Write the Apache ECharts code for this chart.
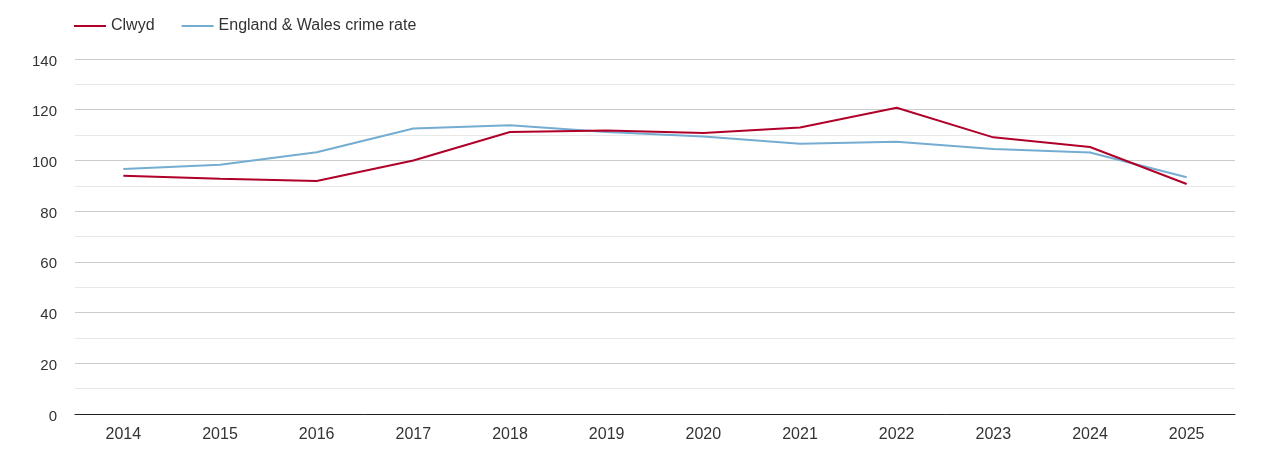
<!DOCTYPE html>
<html>
<head>
<meta charset="utf-8">
<script src="https://cdn.jsdelivr.net/npm/echarts@6/dist/echarts.min.js"></script>
<style>html,body{margin:0;padding:0;background:#fff}#c{width:1270px;height:450px}</style>
</head>
<body>
<div id="c"></div>
<script>
const years = ['2014','2015','2016','2017','2018','2019','2020','2021','2022','2023','2024','2025'];
const clwyd = [94.0, 92.8, 91.9, 100.0, 111.2, 111.8, 110.8, 113.0, 120.8, 109.1, 105.3, 90.7];
const englandWales = [96.6, 98.3, 103.2, 112.6, 113.9, 111.2, 109.4, 106.6, 107.4, 104.5, 103.1, 93.4];
const seriesNames = ['Clwyd', 'England & Wales crime rate'];

const chart = echarts.init(document.getElementById('c'));
chart.setOption({
  animation: false,
  textStyle: { fontFamily: 'Arial, "Liberation Sans", sans-serif' },
  legend: {
    left: 74, top: 18, padding: 0,
    itemWidth: 32, itemHeight: 2, itemGap: 27,
    icon: 'rect',
    textStyle: { fontSize: 16, color: '#333' },
    data: seriesNames
  },
  grid: { left: 75, right: 35, top: 59, bottom: 36, containLabel: false },
  xAxis: {
    type: 'category', data: years, boundaryGap: true,
    axisLine: { lineStyle: { color: '#222', width: 1 } },
    axisTick: { show: false },
    axisLabel: { fontSize: 16, color: '#333', margin: 13 }
  },
  yAxis: {
    type: 'value', min: 0, max: 140, interval: 20,
    axisLine: { show: false }, axisTick: { show: false },
    axisLabel: {
      margin: 18,
      formatter: '{a|{value}}',
      rich: { a: { fontSize: 15, color: '#333', padding: [5, 0, 0, 0] } }
    },
    splitLine: { lineStyle: { color: '#cccccc', width: 1 } },
    minorTick: { show: false, splitNumber: 2 },
    minorSplitLine: { show: true, lineStyle: { color: '#e8e8e8', width: 1 } }
  },
  series: [
    { name: seriesNames[0], type: 'line', data: clwyd, symbol: 'none', z: 3,
      lineStyle: { color: '#b0002a', width: 2 }, itemStyle: { color: '#b0002a' } },
    { name: seriesNames[1], type: 'line', data: englandWales, symbol: 'none', z: 2,
      lineStyle: { color: '#74add1', width: 2 }, itemStyle: { color: '#74add1' } }
  ]
});
</script>
</body>
</html>
